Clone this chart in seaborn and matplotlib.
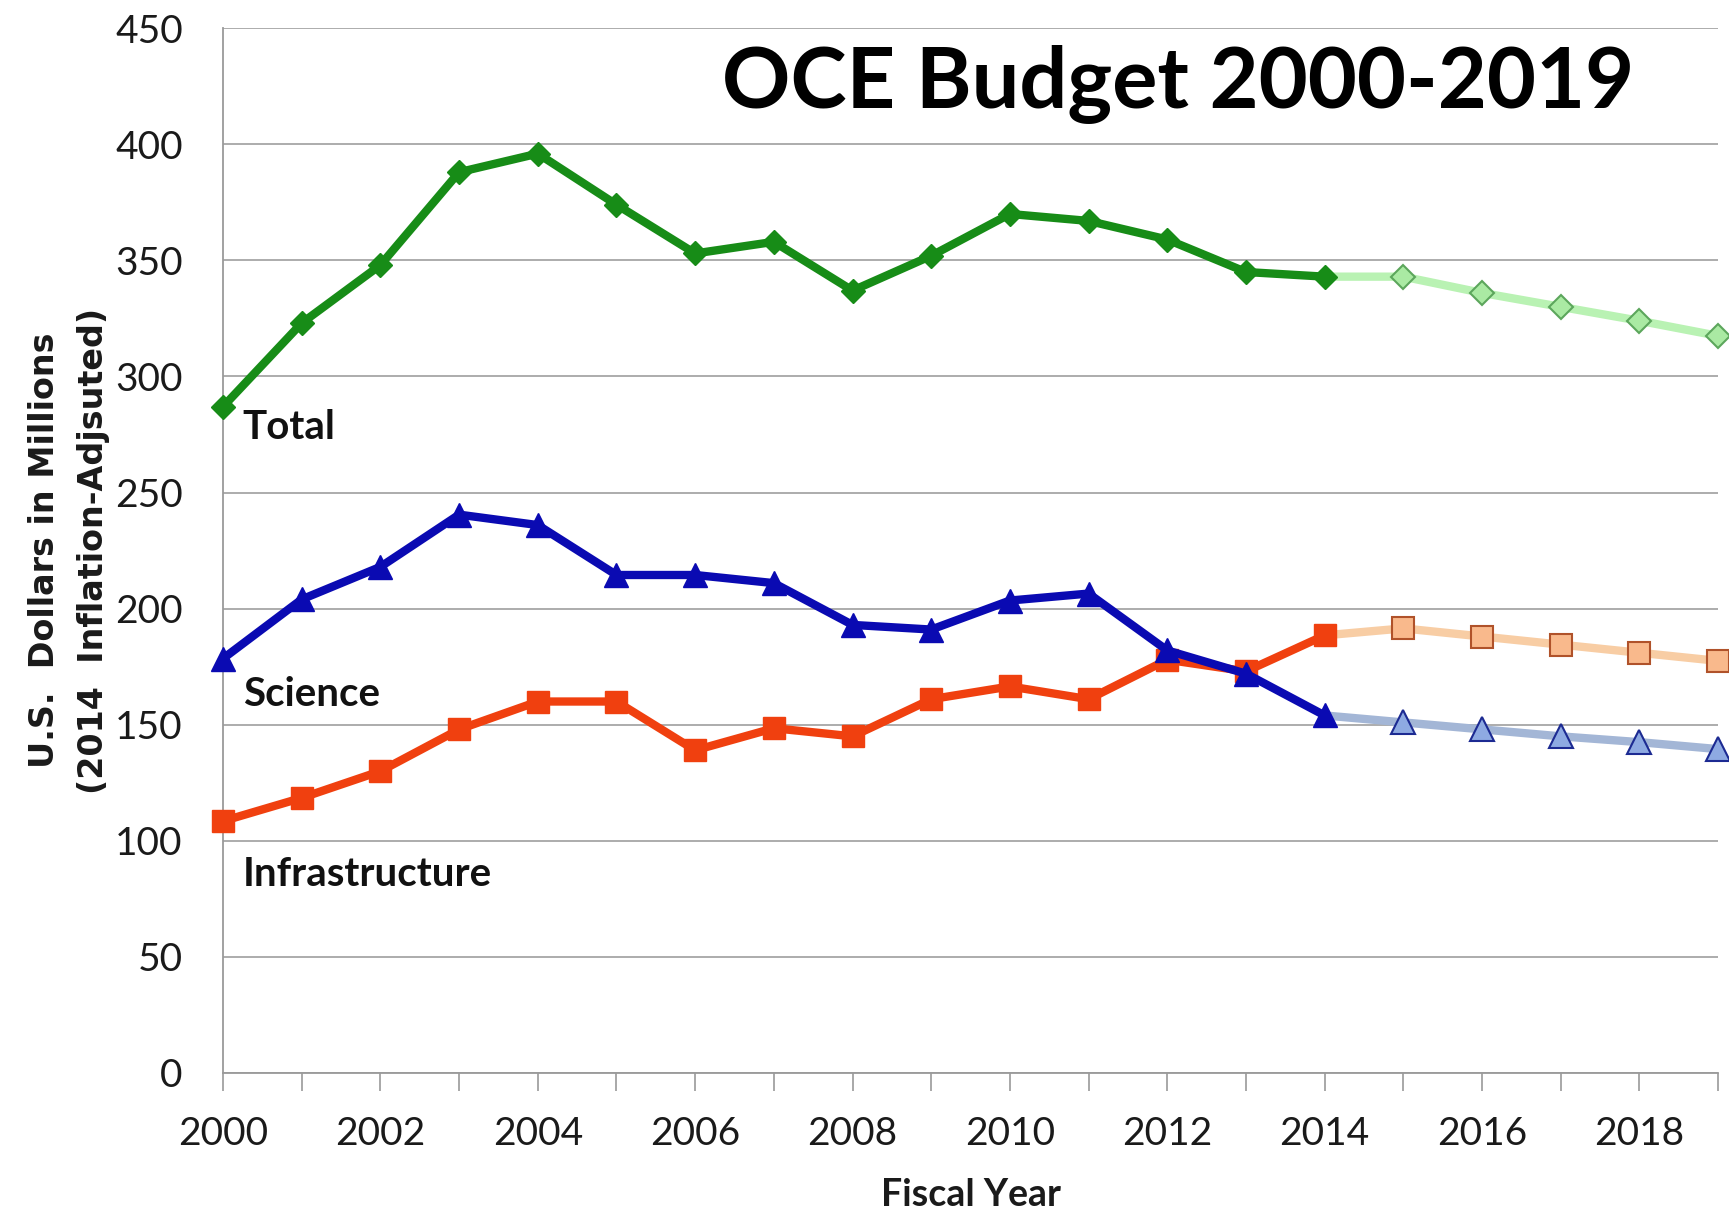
import matplotlib
matplotlib.use("Agg")
import matplotlib.pyplot as plt
import pandas as pd
import seaborn as sns

# Fiscal years and budget series (millions of 2014 dollars)
years = list(range(2000, 2020))
total = [287, 323, 348, 388, 396, 374, 353, 358, 337, 352,
         370, 367, 359, 345, 343, 343, 336, 330, 324, 317.5]
science = [178.5, 204, 218, 240.5, 236, 214.5, 214.5, 211, 193, 191,
           203.5, 206.5, 182, 172, 154, 151, 148, 145, 142.5, 139.5]
infrastructure = [108.5, 118.5, 130, 148, 160, 160, 139, 148.5, 145, 161,
                  166.5, 161, 178, 173, 188.5, 191.5, 188, 184.5, 181, 177.5]
last_actual_year = 2014

series_labels = ["Total", "Science", "Infrastructure"]
label_positions = [(2000.25, 273), (2000.25, 158), (2000.25, 80.7)]
x_tick_labels = [str(y) for y in range(2000, 2020, 2)]
y_ticks = list(range(0, 451, 50))

sns.set_style("white")
plt.rcParams["font.family"] = ["Lato", "DejaVu Sans"]

fig = plt.figure(figsize=(17.29, 12.12), dpi=100)
ax = fig.add_axes([0.129, 0.1147, 0.8647, 0.862])

styles = {
    "Infrastructure": dict(color="#f0400f", marker="s", ms=16,
                           proj_line="#f8cda4", proj_face="#f9b98c", proj_edge="#b0522a"),
    "Science": dict(color="#0a0ab2", marker="^", ms=17,
                    proj_line="#a3b6d6", proj_face="#8eaae2", proj_edge="#1c2a92"),
    "Total": dict(color="#178c17", marker="D", ms=12,
                  proj_line="#b9f2b3", proj_face="#aaeaa3", proj_edge="#5ca65c"),
}
values = {"Total": total, "Science": science, "Infrastructure": infrastructure}

for name in ["Infrastructure", "Science", "Total"]:
    st = styles[name]
    df = pd.DataFrame({"year": years, "value": values[name]})
    actual = df[df["year"] <= last_actual_year]
    proj = df[df["year"] >= last_actual_year]
    # projected years: light line starting at the last actual year
    sns.lineplot(data=proj, x="year", y="value", ax=ax, color=st["proj_line"],
                 linewidth=6, marker=st["marker"], markersize=st["ms"],
                 markevery=list(range(1, len(proj))),
                 markerfacecolor=st["proj_face"], markeredgecolor=st["proj_edge"],
                 markeredgewidth=1.5, clip_on=False, zorder=3)
    # actual years
    sns.lineplot(data=actual, x="year", y="value", ax=ax, color=st["color"],
                 linewidth=6, marker=st["marker"], markersize=st["ms"],
                 markerfacecolor=st["color"], markeredgecolor=st["color"],
                 markeredgewidth=1, clip_on=False, zorder=4)

for text, (x, y) in zip(series_labels, label_positions):
    ax.text(x, y, text, ha="left", va="baseline", fontsize=29,
            fontweight="bold", color="#111111")

ax.text(0.639, 0.9244, "OCE Budget 2000-2019", transform=ax.transAxes,
        ha="center", va="baseline", fontsize=61, fontweight="bold", color="black")

ax.set_xlim(2000, 2019)
ax.set_ylim(0, 450)
ax.set_xticks(range(2000, 2020, 2))
ax.set_xticklabels(x_tick_labels)
ax.set_xticks(range(2000, 2020), minor=True)
ax.set_yticks(y_ticks)
ax.set_yticklabels([str(v) for v in y_ticks])

ax.yaxis.grid(True, color="#a6a6a6", linewidth=1.3)
ax.set_axisbelow(True)
for side in ["top", "right"]:
    ax.spines[side].set_visible(False)
for side in ["left", "bottom"]:
    ax.spines[side].set_color("#9a9a9a")
    ax.spines[side].set_linewidth(1.3)

ax.tick_params(axis="x", which="both", direction="out", length=13, width=1.2,
               color="#9a9a9a", pad=18, labelsize=28, labelcolor="#1a1a1a", bottom=True)
ax.tick_params(axis="y", length=0, pad=29, labelsize=28, labelcolor="#1a1a1a")

ax.set_xlabel("Fiscal Year", fontsize=27, fontweight="bold", color="#1a1a1a")
ax.xaxis.label.set_va("baseline")
ax.xaxis.set_label_coords(0.5, -0.1273)

ax.set_ylabel("U.S.  Dollars in Millions\n(2014  Inflation-Adjsuted)",
              fontsize=24, fontweight="bold", family="DejaVu Sans",
              color="#1a1a1a", linespacing=1.6)
ax.yaxis.set_label_coords(-0.0756, 0.5)

fig.savefig("out.png", dpi=100)
